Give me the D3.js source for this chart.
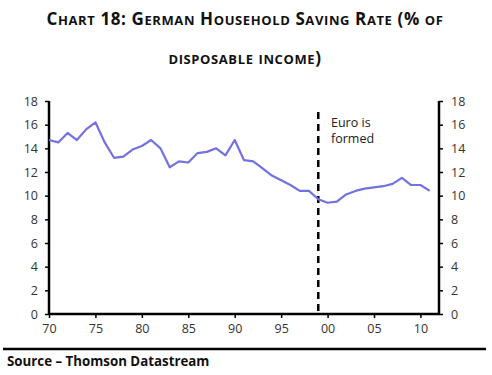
<!DOCTYPE html>
<html>
<head>
<meta charset="utf-8">
<script src="https://cdn.jsdelivr.net/npm/d3@7"></script>
<style>
  body { margin: 0; background: #fff; }
  svg { display: block; font-family: "Open Sans", "DejaVu Sans", sans-serif; }
</style>
</head>
<body>
<svg id="chart" width="492" height="375"></svg>
<script>
const years = d3.range(1970, 2012);
const savingRate = [
  14.7, 14.5, 15.3, 14.7, 15.6, 16.2, 14.5, 13.2, 13.3, 13.9,
  14.2, 14.7, 14.0, 12.4, 12.9, 12.8, 13.6, 13.7, 14.0, 13.4,
  14.7, 13.0, 12.9, 12.3, 11.7, 11.3, 10.9, 10.4, 10.4, 9.7,
  9.4, 9.5, 10.1, 10.4, 10.6, 10.7, 10.8, 11.0, 11.5, 10.9,
  10.9, 10.4
];
const yTicks = [0, 2, 4, 6, 8, 10, 12, 14, 16, 18];
const xTicks = [1970, 1975, 1980, 1985, 1990, 1995, 2000, 2005, 2010];
const titleLines = ["Chart 18: German Household Saving Rate (% of", "disposable income)"];
const euroYear = 1999;

const svg = d3.select("#chart");

const plotLeft = 49, plotRight = 439, plotTop = 101, plotBottom = 314;

const x = d3.scaleLinear().domain([1970, 2012]).range([plotLeft, plotRight]);
const y = d3.scaleLinear().domain([0, 18]).range([plotBottom, plotTop]);

// title, fake small caps: lowercase letters drawn as smaller capitals
function smallCaps(textSel, str, big, small) {
  const runs = str.match(/[a-z]+|[^a-z]+/g);
  runs.forEach(r => {
    const lower = /^[a-z]/.test(r);
    textSel.append("tspan")
      .attr("font-size", lower ? small : big)
      .text(lower ? r.toUpperCase() : r);
  });
}

titleLines.forEach((t, i) => {
  const el = svg.append("text")
    .attr("x", 245)
    .attr("y", i === 0 ? 25 : 64)
    .attr("text-anchor", "middle")
    .attr("font-weight", "bold")
    .attr("letter-spacing", 0.6)
    .attr("fill", "#111");
  smallCaps(el, t, 17, 13);
});

// axes
const tickFmt = d => String(d % 100).padStart(2, "0");

const yLeft = svg.append("g")
  .attr("transform", `translate(${plotLeft},0)`)
  .call(d3.axisLeft(y).tickValues(yTicks).tickSize(4).tickPadding(7));
const yRight = svg.append("g")
  .attr("transform", `translate(${plotRight},0)`)
  .call(d3.axisRight(y).tickValues(yTicks).tickSize(4).tickPadding(8));
const xAxis = svg.append("g")
  .attr("transform", `translate(0,${plotBottom})`)
  .call(d3.axisBottom(x).tickValues(xTicks).tickFormat(tickFmt).tickSize(4).tickPadding(6));

[yLeft, yRight, xAxis].forEach(g => {
  g.select(".domain").attr("stroke", "#000").attr("stroke-width", 2.5);
  g.selectAll(".tick line").attr("stroke", "#000").attr("stroke-width", 1.5);
  g.selectAll(".tick text").attr("font-size", 12.5).attr("fill", "#333")
    .attr("font-family", "Open Sans, sans-serif");
});
yLeft.select(".domain").attr("d", `M0,${plotTop}V${plotBottom}`);
yRight.select(".domain").attr("d", `M0,${plotTop}V${plotBottom}`);
xAxis.select(".domain").attr("d", `M${plotLeft},0H${plotRight}`);

// euro dashed line
svg.append("line")
  .attr("x1", x(euroYear)).attr("x2", x(euroYear))
  .attr("y1", 112).attr("y2", plotBottom)
  .attr("stroke", "#000")
  .attr("stroke-width", 2.5)
  .attr("stroke-dasharray", "7,5");

const note = svg.append("text")
  .attr("font-size", 12.5)
  .attr("fill", "#222");
note.append("tspan").attr("x", 331).attr("y", 127).text("Euro is");
note.append("tspan").attr("x", 331).attr("y", 143).text("formed");

// series
const line = d3.line()
  .x((d, i) => x(years[i]))
  .y(d => y(d));

svg.append("path")
  .datum(savingRate)
  .attr("fill", "none")
  .attr("stroke", "#7272e0")
  .attr("stroke-width", 2.2)
  .attr("stroke-linejoin", "round")
  .attr("d", line);

// source
svg.append("line")
  .attr("x1", 3).attr("x2", 486)
  .attr("y1", 349).attr("y2", 349)
  .attr("stroke", "#000").attr("stroke-width", 2.5);

svg.append("text")
  .attr("x", 7).attr("y", 366)
  .attr("font-size", 13.3)
  .attr("font-weight", "bold")
  .attr("fill", "#111")
  .text("Source \u2013 Thomson Datastream");
</script>
</body>
</html>
